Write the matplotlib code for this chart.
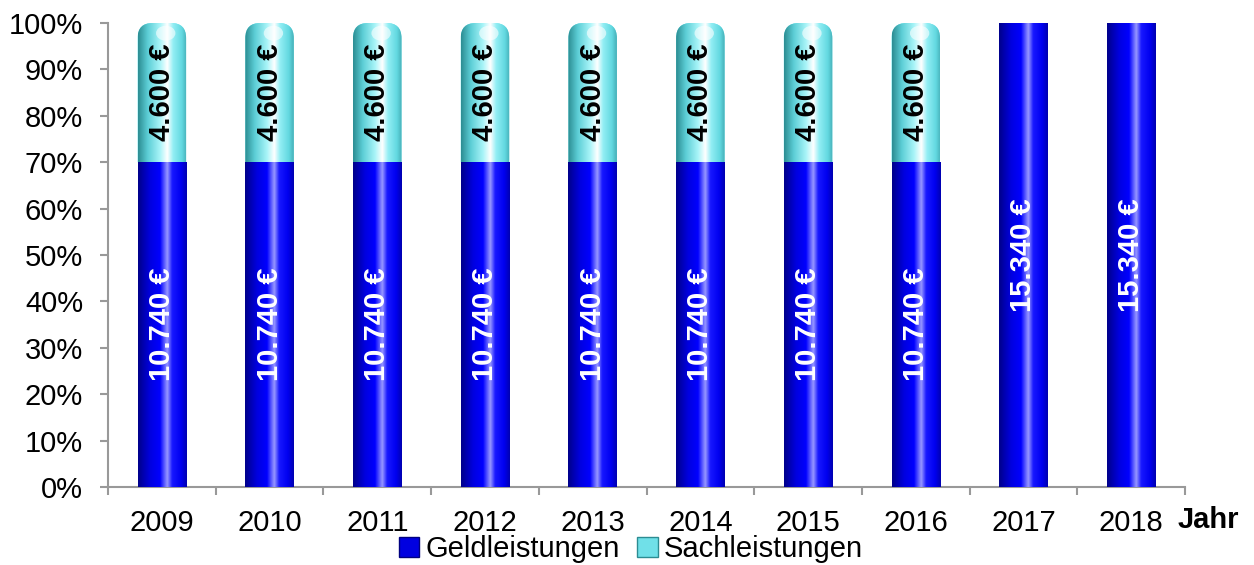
#!/usr/bin/env python3

import matplotlib
matplotlib.use('Agg')
import matplotlib.pyplot as plt
from matplotlib.colors import LinearSegmentedColormap
from matplotlib.patches import PathPatch, Rectangle, Ellipse
from matplotlib.path import Path
import numpy as np

years = ['2009', '2010', '2011', '2012', '2013', '2014', '2015', '2016', '2017', '2018']
geld = [10740, 10740, 10740, 10740, 10740, 10740, 10740, 10740, 15340, 15340]
sach = [4600, 4600, 4600, 4600, 4600, 4600, 4600, 4600, 0, 0]

geld_label = 'Geldleistungen'
sach_label = 'Sachleistungen'

blue_cmap = LinearSegmentedColormap.from_list('blue', [
    (0.0, '#00008A'), (0.25, '#0000E0'), (0.45, '#0000FF'), (0.6, '#9898FF'),
    (0.7, '#1818FF'), (0.88, '#0000F0'), (1.0, '#0000B0')])
cyan_cmap = LinearSegmentedColormap.from_list('cyan', [
    (0.0, '#2C8C92'), (0.2, '#5CCED6'), (0.45, '#A8F4F8'), (0.6, '#FFFFFF'),
    (0.72, '#92EEF4'), (0.9, '#62D8E0'), (1.0, '#46AEB6')])

plt.rcParams['font.family'] = ['Liberation Sans', 'DejaVu Sans']

fig = plt.figure(figsize=(12.54, 5.65), dpi=100)
ax = fig.add_axes([108 / 1254, 1 - 487 / 565, 1077 / 1254, 464 / 565])

geld = np.array(geld, dtype=float)
sach = np.array(sach, dtype=float)
total = geld + sach
geld_pct = geld / total * 100
sach_pct = sach / total * 100

x = np.arange(len(years))
width = 0.45

ax.set_xlim(-0.5, len(years) - 0.5)
ax.set_ylim(0, 100)

bars_g = ax.bar(x, geld_pct, width=width, color='#0000F0', zorder=2)
bars_s = ax.bar(x, sach_pct, width=width, bottom=geld_pct, color='#70E8F0', zorder=2)

grad = np.linspace(0, 1, 256).reshape(1, -1)

for b in bars_g:
    x0, y0, w, h = b.get_x(), b.get_y(), b.get_width(), b.get_height()
    im = ax.imshow(grad, cmap=blue_cmap, extent=(x0, x0 + w, y0, y0 + h),
                   aspect='auto', zorder=3, interpolation='bilinear')
    im.set_clip_path(b)

# rounded caps for the top segment
p0, p1 = ax.transData.transform([(0, 0), (1, 1)])
px_x, px_y = p1 - p0
rad = 15
rx, ry = rad / px_x, rad / px_y

for b in bars_s:
    x0, y0, w, h = b.get_x(), b.get_y(), b.get_width(), b.get_height()
    if h <= 0:
        continue
    b.set_visible(False)
    x1, y1 = x0 + w, y0 + h
    verts = [(x0, y0), (x1, y0), (x1, y1 - ry), (x1, y1), (x1 - rx, y1),
             (x0 + rx, y1), (x0, y1), (x0, y1 - ry), (x0, y0)]
    codes = [Path.MOVETO, Path.LINETO, Path.LINETO, Path.CURVE3, Path.CURVE3,
             Path.LINETO, Path.CURVE3, Path.CURVE3, Path.CLOSEPOLY]
    cap = PathPatch(Path(verts, codes), facecolor='#70E8F0', edgecolor='none', zorder=2)
    ax.add_patch(cap)
    im = ax.imshow(grad, cmap=cyan_cmap, extent=(x0, x1, y0, y1),
                   aspect='auto', zorder=3, interpolation='bilinear')
    im.set_clip_path(cap)
    glow = Ellipse((x0 + w * 0.58, y1 - 2.2), w * 0.4, 3.2,
                   facecolor='white', edgecolor='none', alpha=0.6, zorder=4)
    ax.add_patch(glow)
    glow.set_clip_path(cap)

def euro(v):
    return '{:,.0f} €'.format(v).replace(',', '.')

for i in range(len(years)):
    ax.text(x[i], geld_pct[i] / 2, euro(geld[i]), rotation=90, ha='center', va='center',
            color='white', fontsize=21, fontweight='bold', zorder=5)
    if sach[i] > 0:
        ax.text(x[i], geld_pct[i] + sach_pct[i] / 2, euro(sach[i]), rotation=90,
                ha='center', va='center', color='black', fontsize=21,
                fontweight='bold', zorder=5)

ax.set_yticks(np.arange(0, 101, 10))
ax.set_yticklabels(['{}%'.format(v) for v in range(0, 101, 10)])
ax.set_xticks(x)
ax.set_xticklabels(years)
ax.set_xticks(np.arange(-0.5, len(years), 1), minor=True)
ax.tick_params(axis='x', which='major', length=0, pad=16, labelsize=21)
ax.tick_params(axis='x', which='minor', length=6, color='#999999', width=1.5)
ax.tick_params(axis='y', length=6, color='#999999', width=1.5, pad=12, labelsize=21)

for s in ('top', 'right'):
    ax.spines[s].set_visible(False)
for s in ('left', 'bottom'):
    ax.spines[s].set_color('#999999')
    ax.spines[s].set_linewidth(1.5)

ax.text(0.9935, -0.071, 'Jahr', transform=ax.transAxes, ha='left', va='center',
        fontsize=21, fontweight='bold')

handles = [Rectangle((0, 0), 1, 1, facecolor='#0000E0', edgecolor='#000080'),
           Rectangle((0, 0), 1, 1, facecolor='#70E0E8', edgecolor='#2C8C92')]
fig.legend(handles, [geld_label, sach_label], loc='lower center',
           bbox_to_anchor=(0.503, -0.028), ncol=2, frameon=False, fontsize=21,
           handlelength=0.7, handleheight=0.7, handletextpad=0.2, columnspacing=0.6,
           borderpad=0.1)

fig.savefig('out.png', dpi=100)
